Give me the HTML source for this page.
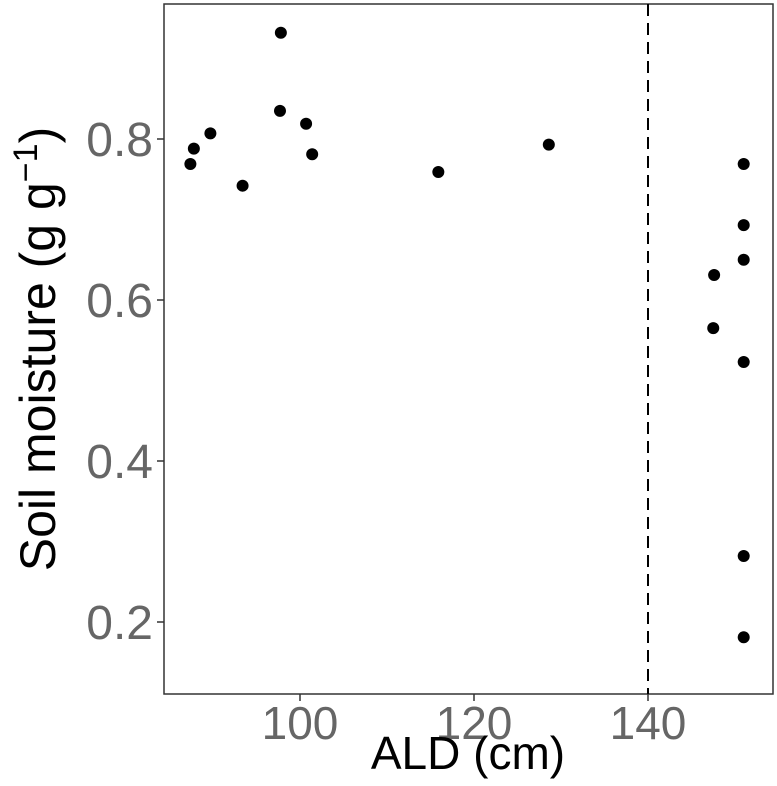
<!DOCTYPE html>
<html><head><meta charset="utf-8"><style>
body{margin:0;background:#fff;}
svg text{font-family:"Liberation Sans",sans-serif;}
</style></head><body>
<svg id="chart" width="777" height="781" xmlns="http://www.w3.org/2000/svg">
<rect x="164" y="4" width="609" height="690" fill="#fff" stroke="#333" stroke-width="1.5"/>
<g id="ticks"></g>
<g id="points"></g>
<text x="468" y="769" font-size="46" text-anchor="middle" fill="#000">ALD (cm)</text>
<text transform="translate(55,349) rotate(-90)" font-size="50" text-anchor="middle" fill="#000">Soil moisture (g g<tspan dy="-18" font-size="34">−1</tspan><tspan dy="18">)</tspan></text>
</svg>
<script>
const xTicks=[100,120,140];
const yTicks=[0.2,0.4,0.6,0.8];
const yTickLabels=["0.2","0.4","0.6","0.8"];
const threshold=[140];
const ald=[87.4,87.8,89.7,93.4,97.8,97.7,100.7,101.4,115.9,128.6,151.0,151.0,151.0,147.6,147.5,151.0,151.0,151.0];
const moisture=[0.769,0.788,0.807,0.742,0.932,0.835,0.819,0.781,0.759,0.793,0.769,0.693,0.650,0.631,0.565,0.523,0.282,0.181];
const NS="http://www.w3.org/2000/svg";
function X(v){return 300+(v-100)*8.7;}
function Y(v){return 139-(v-0.8)*805;}
const tg=document.getElementById('ticks');
function mk(t,a,p){const e=document.createElementNS(NS,t);for(const k in a)e.setAttribute(k,a[k]);p.appendChild(e);return e;}
xTicks.forEach(v=>{
 const l=mk('line',{x1:X(v),x2:X(v),y1:694,y2:701,stroke:'#333','stroke-width':1.5},tg);
 
 
 const t=mk('text',{x:X(v),y:739,'font-size':46,'text-anchor':'middle',fill:'#666'},tg);
 t.textContent=v;
 
 
});
yTicks.forEach((v,i)=>{
 const l=mk('line',{x1:157,x2:164,y1:Y(v),y2:Y(v),stroke:'#333','stroke-width':1.5},tg);
 
 
 const t=mk('text',{x:153,y:Y(v)+17,'font-size':48,'text-anchor':'end',fill:'#666'},tg);
 t.textContent=yTickLabels[i];
 
 
});
threshold.forEach(v=>{
 const l=mk('line',{x1:X(v),x2:X(v),y1:4,y2:694,stroke:'#000','stroke-width':2,'stroke-dasharray':'12,7'},tg);
 
 
});
const pg=document.getElementById('points');
ald.forEach((v,i)=>{
 const c=mk('circle',{cx:X(v),cy:Y(moisture[i]),r:6,fill:'#000'},pg);
 
 
});
</script>
</body></html>
